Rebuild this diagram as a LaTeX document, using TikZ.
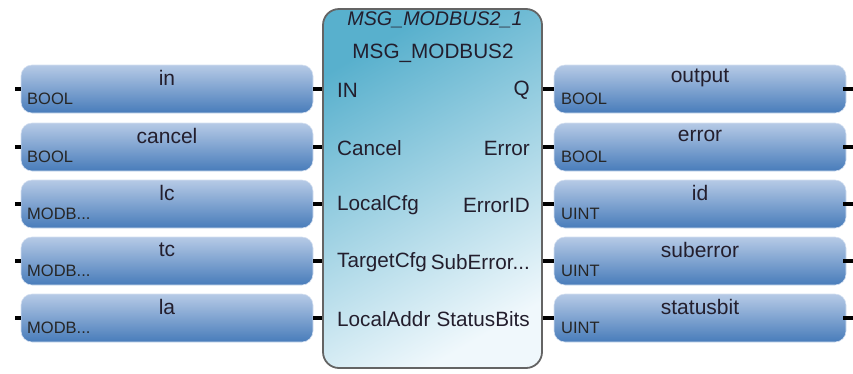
\documentclass[tikz,border=0pt]{standalone}
\usepackage{fontspec}
\setmainfont{Liberation Sans}
\newcommand\myell{.\kern0pt.\kern0pt.}
\definecolor{vtop}{RGB}{182,202,230}
\definecolor{vbot}{RGB}{72,124,186}
\definecolor{btop}{RGB}{88,176,205}
\definecolor{bbot}{RGB}{240,248,252}
\definecolor{bedge}{RGB}{100,100,100}
\definecolor{txt}{RGB}{35,30,45}
\begin{document}
\begin{tikzpicture}[x=1pt,y=-1pt,
  varbox/.style={rounded corners=11pt, top color=vtop, bottom color=vbot, draw=vtop!60!white, line width=0.6pt, minimum width=292pt, minimum height=48pt, inner sep=0pt},
  varname/.style={font=\fontsize{21}{22}\selectfont, text=txt, inner sep=0pt},
  vartype/.style={font=\fontsize{16.5}{17}\selectfont, text=black!85, inner sep=0pt, anchor=west},
  pinl/.style={font=\fontsize{20.7}{21}\selectfont, text=txt, inner sep=0pt, anchor=west},
  pinr/.style={font=\fontsize{20.7}{21}\selectfont, text=txt, inner sep=0pt, anchor=east},
  stub/.style={line width=3.6pt, black}]
\useasboundingbox (0,0) rectangle (853,373);
% main block
\node[draw=bedge, line width=1.8pt, rounded corners=16pt, minimum width=219pt, minimum height=359pt, inner sep=0pt,
  shading=axis, top color=btop, bottom color=bbot, shading angle=30] (blk) at (432.5,188.5) {};
\node[font=\itshape\fontsize{19.7}{20}\selectfont, text=txt, inner sep=0pt] (inst) at (435,20) {MSG\_MODBUS2\_1};
\node[font=\fontsize{20.7}{21}\selectfont, text=txt, inner sep=0pt] (typ) at (433,53) {MSG\_MODBUS2};
% rows
\foreach \i/\y/\ln/\lt/\pl/\pr/\rn/\rt in {
  1/89/in/BOOL/IN/Q/output/BOOL,
  2/147/cancel/BOOL/Cancel/Error/error/BOOL,
  3/204/lc/MODB\myell/LocalCfg/ErrorID/id/UINT,
  4/261/tc/MODB\myell/TargetCfg/SubError\myell/suberror/UINT,
  5/318/la/MODB\myell/LocalAddr/StatusBits/statusbit/UINT}{
  \node[varbox] (lv\i) at (167,\y) {};
  \node[varname] (ln\i) at (167,\y-11) {\ln};
  \node[vartype] (lt\i) at (27,\y+10) {\lt};
  \node[varbox] (rv\i) at (700,\y) {};
  \node[varname] (rn\i) at (700,\y-11) {\rn};
  \node[vartype] (rt\i) at (561,\y+10) {\rt};
  \node[pinl] (pl\i) at (337,\y+1) {\pl};
  \node[pinr] (pr\i) at (530,\y+1) {\pr};
  \coordinate (la\i) at (15,\y);
  \coordinate (ra\i) at (853,\y);
  \draw[stub] (la\i) -- (lv\i.west |- la\i);
  \draw[stub] (lv\i.east |- la\i) -- (blk.west |- la\i);
  \draw[stub] (blk.east |- la\i) -- (rv\i.west |- la\i);
  \draw[stub] ([xshift=-3pt]rv\i.east |- ra\i) -- (ra\i);
}
\end{tikzpicture}
\end{document}
